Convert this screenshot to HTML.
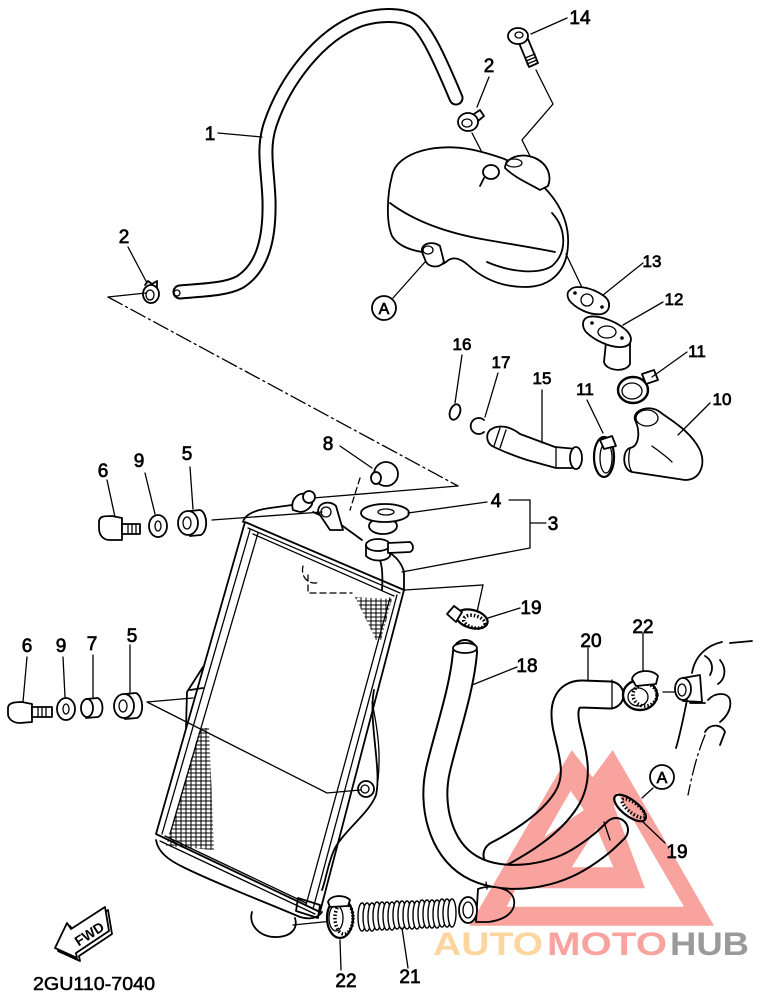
<!DOCTYPE html>
<html><head><meta charset="utf-8"><style>
html,body{margin:0;padding:0;background:#fff;}
svg{display:block;}
.l{fill:none;stroke:#000;stroke-width:1.8;stroke-linecap:round;stroke-linejoin:round;}
.n{fill:none;stroke:#000;stroke-width:1.3;stroke-linecap:round;}
.w{fill:#fff;stroke:#000;stroke-width:1.8;stroke-linejoin:round;}
.t{font-family:"Liberation Sans",sans-serif;font-size:19px;fill:#000;stroke:#000;stroke-width:0.7;text-anchor:middle;}
.s{font-size:17px;}
.dd{stroke-dasharray:16 4 2 4;}
.d{stroke-dasharray:6 4;}
</style></head><body>
<svg width="760" height="1006" viewBox="0 0 760 1006" xmlns="http://www.w3.org/2000/svg">
<defs>
<path id="h1" d="M180,292 C200,290 225,290 240,282 C262,268 270,240 269,200 C268,170 262,150 270,125 C285,80 320,35 360,20 C380,14 400,14 412,20 C425,26 440,60 456,98"/>
<path id="h18" d="M465,652 C462,690 446,735 438,770 C430,805 440,848 470,866 C500,884 548,878 578,860 C598,848 608,838 616,830"/>
<path id="h20" d="M610,695 L582,694 C566,694 563,708 566,725 C571,750 582,775 566,800 C550,825 520,843 497,855"/>
<pattern id="fin" width="5" height="4" patternUnits="userSpaceOnUse"><path d="M0,1H5M1,0V4" stroke="#000" stroke-width="1"/></pattern>
</defs>
<rect width="760" height="1006" fill="#fff"/>

<!-- hose 1 -->
<use href="#h1" fill="none" stroke="#000" stroke-width="15" stroke-linecap="round"/>
<use href="#h1" fill="none" stroke="#fff" stroke-width="11" stroke-linecap="round"/>
<ellipse class="n" cx="177" cy="293" rx="3" ry="3"/>

<!-- clamp 2 lower -->
<ellipse class="w" cx="151" cy="294" rx="8" ry="9"/>
<ellipse class="n" cx="150" cy="295" rx="4" ry="5"/>
<path class="l" d="M145,285 L148,281 L152,284 L157,281 L157,287"/>
<!-- clamp 2 upper -->
<ellipse class="w" cx="468" cy="122" rx="10" ry="9"/>
<ellipse class="n" cx="467" cy="123" rx="5" ry="4"/>
<path class="l" d="M474,114 L480,110 L484,116 L478,121"/>

<!-- leaders top -->
<path class="n" d="M218,133 L262,137"/>
<path class="n" d="M128,247 L147,283"/>
<path class="n" d="M108,297 L146,293"/>
<path class="n dd" d="M108,297 L458,486"/>
<path class="n" d="M458,486 L313,498"/>
<path class="n" d="M489,77 L477,107"/>
<path class="n" d="M472,133 L488,164"/>
<path class="n" d="M567,18 L531,34"/>
<path class="n" d="M536,70 L553,104 L522,140 L541,178"/>

<!-- tank -->
<path class="w" d="M392,176 C396,152 440,140 482,152 C500,157 510,160 520,168 C548,186 570,212 568,245 C567,270 552,287 525,287 C500,287 482,278 468,265 C460,258 452,256 446,262 C438,268 428,262 422,252 C410,250 398,246 392,236 C386,222 387,195 392,176 Z"/>
<path class="l" d="M390,203 C410,218 440,232 487,240 C510,244 535,248 555,252"/>
<path class="l" d="M552,213 C566,228 568,252 552,266 C538,275 510,272 487,262"/>
<ellipse class="w" cx="491" cy="172" rx="8" ry="7"/>
<path class="l" d="M484,178 L480,186"/>
<path class="w" d="M505,168 C505,158 520,152 535,158 C548,164 552,176 548,186 L540,190 C530,184 515,178 505,168 Z"/>
<ellipse class="n" cx="514" cy="163" rx="8" ry="4"/>
<path class="w" d="M422,252 C420,244 432,240 440,246 L444,262 C440,268 430,268 426,262 Z"/>
<ellipse class="n" cx="428" cy="250" rx="5" ry="4"/>
<!-- bolt 14 -->
<path class="w" d="M519,43 L529,67 L538,63 L528,39 Z"/>
<path class="n" d="M525,58 L535,54 M526,61 L536,57 M527,64 L537,60"/>
<ellipse class="w" cx="518" cy="36" rx="10" ry="8"/>
<ellipse class="n" cx="519" cy="35" rx="4" ry="3"/>

<!-- A top -->
<circle class="l" cx="384" cy="308" r="12"/>
<text class="t" x="384" y="314" style="font-size:16px">A</text>
<path class="n" d="M393,298 L425,262"/>

<!-- 13, 12, 11, 10, 15, 16, 17 -->
<path class="n" d="M566,254 L587,298"/>
<path class="w" d="M570,290 C574,285 590,286 604,296 C612,302 610,312 602,314 C590,316 575,308 569,300 C567,296 567,292 570,290 Z"/>
<circle class="n" cx="587" cy="300" r="6"/>
<circle cx="575" cy="293" r="1.8"/><circle cx="602" cy="307" r="1.8"/>
<path class="w" d="M606,342 L604,362 C606,371 626,373 630,364 L630,342 Z"/>
<path class="w" d="M586,318 C592,314 612,318 626,330 C634,338 632,346 622,347 C610,348 594,340 586,332 C582,327 582,321 586,318 Z"/>
<ellipse class="n" cx="607" cy="332" rx="9" ry="6"/>
<circle cx="592" cy="323" r="1.8"/><circle cx="622" cy="338" r="1.8"/>
<ellipse class="w" cx="633" cy="390" rx="15" ry="13" style="stroke-width:2.4"/>
<ellipse class="n" cx="632" cy="391" rx="10" ry="8"/>
<path class="w" d="M642,374 L654,370 L658,380 L646,384 Z"/>
<path class="w" d="M635,420 C632,410 650,404 660,412 C670,420 690,430 700,450 C706,465 700,480 685,480 L632,472 C622,470 622,450 630,448 C640,446 640,430 635,420 Z"/>
<ellipse class="n" cx="647" cy="418" rx="11" ry="8"/>
<path class="n" d="M652,446 C660,452 666,456 672,462"/>
<path class="n" d="M630,448 C628,458 628,466 632,472"/>
<ellipse class="w" cx="604" cy="457" rx="10" ry="20" style="stroke-width:2.2"/>
<ellipse class="n" cx="606" cy="458" rx="6" ry="15"/>
<path class="w" d="M600,440 L612,436 L616,446 L604,449 Z"/>
<path class="w" d="M490,430 C498,424 510,426 520,434 L555,447 L577,449 L579,468 L556,468 L527,460 C512,455 500,450 492,446 C486,442 486,434 490,430 Z"/>
<path class="n" d="M500,428 L494,446 M506,430 L500,448 M556,447 L556,468"/>
<ellipse class="w" cx="576" cy="458" rx="6" ry="11"/>
<ellipse class="l" cx="455" cy="412" rx="5" ry="8" transform="rotate(20 455 412)"/>
<path class="l" d="M484,420 A8,8 0 1 0 484,432"/>
<path class="n" d="M643,263 L603,295"/>
<path class="n" d="M663,302 L623,325"/>
<path class="n" d="M687,352 L652,377"/>
<path class="n" d="M710,403 L678,435"/>
<path class="n" d="M462,355 L455,403"/>
<path class="n" d="M498,373 L485,417"/>
<path class="n" d="M542,390 L542,443"/>
<path class="n" d="M587,400 L603,433"/>

<!-- hoses 20 & 18 -->
<use href="#h20" fill="none" stroke="#000" stroke-width="29" stroke-linecap="round"/>
<use href="#h20" fill="none" stroke="#fff" stroke-width="25" stroke-linecap="round"/>
<path class="n" d="M612,680 L612,709"/>
<use href="#h18" fill="none" stroke="#000" stroke-width="26" stroke-linecap="round"/>
<use href="#h18" fill="none" stroke="#fff" stroke-width="22" stroke-linecap="round"/>
<ellipse class="w" cx="465" cy="648" rx="12" ry="5"/>
<path class="n" d="M604,822 L610,840"/>

<!-- radiator -->
<path class="w" d="M245,522 L404,590 L320,912 L156,834 Z"/>
<path class="n" d="M248,528 L400,593 M253,534 L394,596"/>
<path class="n" d="M250,530 L162,834 M258,533 L170,834"/>
<path class="n" d="M397,595 L313,909 M390,598 L306,905"/>
<path class="n" d="M160,841 L315,914 M165,836 L306,903"/>
<path class="l" d="M156,840 C158,852 168,860 185,868 C220,885 260,900 300,917 C310,920 318,918 322,912"/>
<path class="l" d="M243,522 C245,514 255,510 270,508 L292,505"/>
<path class="l" d="M313,512 L340,524 L362,540"/>
<path class="l" d="M388,552 C396,556 402,564 404,572 L404,590"/>
<path class="l" d="M378,556 C382,562 383,575 382,590"/>
<path class="l" d="M374,690 C368,720 382,770 376,795 C370,812 345,830 335,848 C328,862 326,880 322,890"/>
<path class="n" d="M372,702 C380,740 380,760 378,780"/>
<path class="l" d="M203,667 L187,692 L186,728 M190,690 L203,688"/>
<polygon points="355,597 392,599 381,640 376,640" fill="url(#fin)"/>
<polygon points="200,728 209,728 214,850 166,846" fill="url(#fin)"/>
<path class="l" d="M298,898 L320,905 L318,918 L296,911 Z"/>
<path class="l" d="M252,912 C248,925 260,938 278,937 C292,936 298,928 295,918"/>
<path class="n" d="M293,925 L333,921"/>
<circle class="w" cx="366" cy="789" r="8"/>
<circle class="n" cx="365" cy="789" r="4"/>
<!-- top parts of radiator -->
<path class="w" d="M293,510 C290,500 298,492 306,494 L312,500 C314,506 306,512 300,512 Z"/>
<ellipse class="w" cx="309" cy="497" rx="6" ry="6"/>
<path class="w" d="M318,512 C318,502 330,500 336,506 L343,530 L330,530 Z"/>
<circle class="n" cx="326" cy="512" r="5"/>
<path class="w" d="M366,545 L366,556 C372,562 386,562 390,556 L390,545 Z"/>
<ellipse class="w" cx="378" cy="545" rx="12" ry="6"/>
<path class="w" d="M388,543 L410,542 C414,545 414,550 410,552 L388,553 Z"/>
<ellipse class="w" cx="383" cy="526" rx="14" ry="8"/>
<ellipse class="w" cx="385" cy="513" rx="24" ry="9"/>
<ellipse class="n" cx="386" cy="512" rx="8" ry="3"/>
<circle class="w" cx="386" cy="474" r="12"/>
<ellipse class="w" cx="376" cy="478" rx="5" ry="6"/>
<path class="n d" d="M308,575 L308,593 L352,593"/>
<path class="n d" d="M303,566 C300,578 310,586 320,582"/>

<!-- left hardware upper -->
<path class="w" d="M99,522 C99,516 104,516 112,516 L122,518 L122,540 L110,540 C102,540 99,534 99,528 Z"/>
<path class="w" d="M122,524 L140,524 L140,534 L122,534 Z"/>
<path class="n" d="M128,524 L128,534 M132,524 L132,534 M136,524 L136,534"/>
<ellipse class="w" cx="158" cy="526" rx="9" ry="11"/>
<ellipse class="n" cx="158" cy="526" rx="3" ry="5"/>
<path class="w" d="M190,511 L200,510 C207,512 209,530 201,535 L190,536 Z"/>
<ellipse class="w" cx="188" cy="523" rx="10" ry="12"/>
<ellipse class="n" cx="187" cy="523" rx="4" ry="6"/>
<path class="n" d="M212,520 L322,512"/>
<path class="n" d="M107,480 L115,517 M145,473 L155,514 M190,467 L193,509"/>
<!-- left hardware lower -->
<path class="w" d="M8,708 C8,703 14,702 22,702 L32,704 L32,722 L20,723 C12,723 8,718 8,714 Z"/>
<path class="w" d="M32,707 L52,707 L52,717 L32,717 Z"/>
<path class="n" d="M38,707 L38,717 M42,707 L42,717 M46,707 L46,717"/>
<ellipse class="w" cx="66" cy="709" rx="9" ry="11"/>
<ellipse class="n" cx="66" cy="709" rx="3" ry="5"/>
<path class="w" d="M86,699 L98,698 C104,702 104,714 98,717 L86,718 Z"/>
<ellipse class="w" cx="87" cy="708" rx="6" ry="9"/>
<path class="w" d="M125,694 L136,693 C143,696 145,714 137,718 L125,719 Z"/>
<ellipse class="w" cx="124" cy="706" rx="10" ry="12"/>
<ellipse class="n" cx="123" cy="706" rx="4" ry="6"/>
<path class="n" d="M147,702 L193,698 M147,702 L327,793 L360,790"/>
<path class="n" d="M27,657 L23,702 M63,657 L65,697 M93,655 L93,697 M130,645 L130,692"/>

<!-- leaders mid -->
<path class="n" d="M340,446 L372,468"/>
<path class="n d" d="M360,478 L350,510"/>
<path class="n" d="M408,513 L487,502"/>
<path class="n" d="M509,500 L530,500 L530,548 L402,572 M530,523 L546,523"/>
<path class="n" d="M405,590 L483,585 L477,612"/>
<path class="n" d="M488,618 L520,608"/>
<path class="n" d="M517,667 L472,685"/>
<path class="n" d="M588,648 L588,680"/>
<path class="n" d="M643,633 L643,670"/>
<path class="n" d="M663,692 L683,692"/>

<!-- clamp 19 upper -->
<ellipse class="w" cx="472" cy="619" rx="16" ry="9" transform="rotate(15 472 619)" style="stroke-width:2.2"/>
<ellipse cx="475" cy="621" rx="11" ry="6" fill="none" stroke="#000" stroke-width="3.5" stroke-dasharray="1.5 2" transform="rotate(15 472 619)"/>
<path class="w" d="M447,614 L454,606 L462,612 L456,622 Z"/>
<!-- clamp 22 upper & fitting -->
<ellipse class="w" cx="640" cy="695" rx="17" ry="15" style="stroke-width:2.4"/>
<ellipse cx="645" cy="695" rx="12" ry="11" fill="none" stroke="#000" stroke-width="3.5" stroke-dasharray="1.5 2"/>
<ellipse class="n" cx="638" cy="697" rx="10" ry="9"/>
<path class="w" d="M632,679 C634,670 652,668 658,676 L656,684 L636,686 Z"/>
<path class="w" d="M683,678 L700,675 L702,702 L683,701 Z"/>
<ellipse class="w" cx="683" cy="689" rx="8" ry="11"/>
<ellipse class="n" cx="682" cy="690" rx="4" ry="6"/>
<!-- engine outlines right -->
<path class="l" d="M692,673 C695,655 708,645 722,642"/>
<path class="l" d="M730,643 L752,641"/>
<path class="l" d="M705,656 C712,660 714,668 710,675"/>
<path class="l" d="M720,660 C728,670 724,680 718,684"/>
<path class="l" d="M687,700 C683,720 680,735 676,748"/>
<path class="l" d="M708,700 C715,692 728,692 730,700 C732,710 725,718 720,722"/>
<path class="l" d="M705,732 C710,723 722,724 725,732 L720,745"/>
<path class="l" d="M690,703 L705,703"/>
<path class="n dd" d="M705,735 C698,752 693,770 688,795"/>

<!-- clamp 19 lower, A -->
<ellipse class="w" cx="630" cy="808" rx="19" ry="8" transform="rotate(38 630 808)" style="stroke-width:2.2"/>
<ellipse cx="633" cy="806" rx="14" ry="5" fill="none" stroke="#000" stroke-width="3.5" stroke-dasharray="1.5 2" transform="rotate(38 630 808)"/>
<circle class="l" cx="662" cy="777" r="12"/>
<text class="t" x="662" y="783" style="font-size:16px">A</text>
<path class="n" d="M653,788 L642,798"/>
<path class="n" d="M665,843 L643,822"/>

<!-- bottom: clamp 22, bellows 21, pipe -->
<ellipse class="w" cx="340" cy="918" rx="13" ry="20" style="stroke-width:2.2"/>
<ellipse cx="344" cy="918" rx="9" ry="16" fill="none" stroke="#000" stroke-width="3.5" stroke-dasharray="1.5 2"/>
<ellipse class="n" cx="336" cy="918" rx="7" ry="13"/>
<path class="w" d="M328,902 C330,895 344,894 350,900 L348,906 L330,907 Z"/>
<g fill="#fff" stroke="#000" stroke-width="1.4">
<ellipse cx="362" cy="917" rx="4" ry="14"/><ellipse cx="367" cy="917" rx="4" ry="14"/><ellipse cx="372" cy="917" rx="4" ry="14"/><ellipse cx="377" cy="916" rx="4" ry="14"/><ellipse cx="382" cy="916" rx="4" ry="14"/><ellipse cx="387" cy="916" rx="4" ry="14"/><ellipse cx="392" cy="916" rx="4" ry="14"/><ellipse cx="397" cy="915" rx="4" ry="14"/><ellipse cx="402" cy="915" rx="4" ry="14"/><ellipse cx="407" cy="915" rx="4" ry="14"/><ellipse cx="412" cy="915" rx="4" ry="14"/><ellipse cx="417" cy="915" rx="4" ry="14"/><ellipse cx="422" cy="914" rx="4" ry="14"/><ellipse cx="427" cy="914" rx="4" ry="14"/><ellipse cx="432" cy="914" rx="4" ry="14"/><ellipse cx="437" cy="914" rx="4" ry="14"/><ellipse cx="442" cy="913" rx="4" ry="14"/><ellipse cx="447" cy="913" rx="4" ry="14"/><ellipse cx="452" cy="913" rx="4" ry="14"/>
</g>
<path class="w" d="M478,889 C492,884 512,888 514,900 C516,912 505,920 488,922 L476,922 Z"/>
<path class="n" d="M486,882 L487,889"/>
<ellipse class="w" cx="468" cy="910" rx="9" ry="13"/>
<ellipse class="n" cx="468" cy="910" rx="5" ry="8"/>
<path class="n" d="M340,940 L341,970"/>
<path class="n" d="M402,928 L408,968"/>

<!-- FWD arrow -->
<path class="w" d="M58,951 L70,926 L74,932 L108,910 L112,934 L79,956 L80,961 Z"/>
<path class="w" d="M55,948 L67,923 L71,929 L105,907 L109,931 L76,953 L77,958 Z"/>
<text transform="translate(92,938) rotate(-33)" font-family="Liberation Sans,sans-serif" font-size="14" font-weight="bold" text-anchor="middle">FWD</text>
<text x="33" y="990" font-family="Liberation Sans,sans-serif" font-size="18" stroke="#000" stroke-width="0.5" textLength="122" lengthAdjust="spacingAndGlyphs">2GU110-7040</text>

<!-- labels -->
<text class="t" x="580" y="24">14</text>
<text class="t" x="489" y="72">2</text>
<text class="t" x="210" y="140">1</text>
<text class="t" x="124" y="243">2</text>
<text class="t s" x="652" y="267">13</text>
<text class="t s" x="674" y="305">12</text>
<text class="t s" x="697" y="357">11</text>
<text class="t s" x="722" y="405">10</text>
<text class="t s" x="462" y="350">16</text>
<text class="t s" x="501" y="368">17</text>
<text class="t s" x="542" y="384">15</text>
<text class="t s" x="585" y="395">11</text>
<text class="t" x="328" y="450">8</text>
<text class="t" x="103" y="477">6</text>
<text class="t" x="139" y="467">9</text>
<text class="t" x="187" y="460">5</text>
<text class="t" x="496" y="507">4</text>
<text class="t" x="553" y="530">3</text>
<text class="t" x="531" y="614">19</text>
<text class="t" x="27" y="652">6</text>
<text class="t" x="61" y="652">9</text>
<text class="t" x="92" y="650">7</text>
<text class="t" x="132" y="642">5</text>
<text class="t" x="643" y="633">22</text>
<text class="t" x="591" y="647">20</text>
<text class="t" x="527" y="672">18</text>
<text class="t" x="677" y="858">19</text>
<text class="t" x="346" y="987">22</text>
<text class="t" x="410" y="983">21</text>

<!-- watermark -->
<g style="mix-blend-mode:multiply">
<path fill="#f8a39e" fill-rule="evenodd" d="M571.7,750 L592.7,777.3 L612.7,750 L714,925.7 L469.3,925.7 Z M570.7,790.7 L584,810 L544,837.3 Z M617,792 L684,906.7 L506.7,906.7 L516,888.3 L645,888.3 L614,806 Z M596.7,828.3 L613.3,867.3 L571.7,867.3 Z"/>
<text x="433" y="955" font-family="Liberation Sans,sans-serif" font-weight="bold" font-size="32" fill="#fdd59f" textLength="110" lengthAdjust="spacingAndGlyphs">AUTO</text>
<text x="547" y="955" font-family="Liberation Sans,sans-serif" font-weight="bold" font-size="32" fill="#f8a39e" textLength="120" lengthAdjust="spacingAndGlyphs">MOTO</text>
<text x="670" y="955" font-family="Liberation Sans,sans-serif" font-weight="bold" font-size="32" fill="#9a9a9a" textLength="79" lengthAdjust="spacingAndGlyphs">HUB</text>
</g>
</svg>
</body></html>
